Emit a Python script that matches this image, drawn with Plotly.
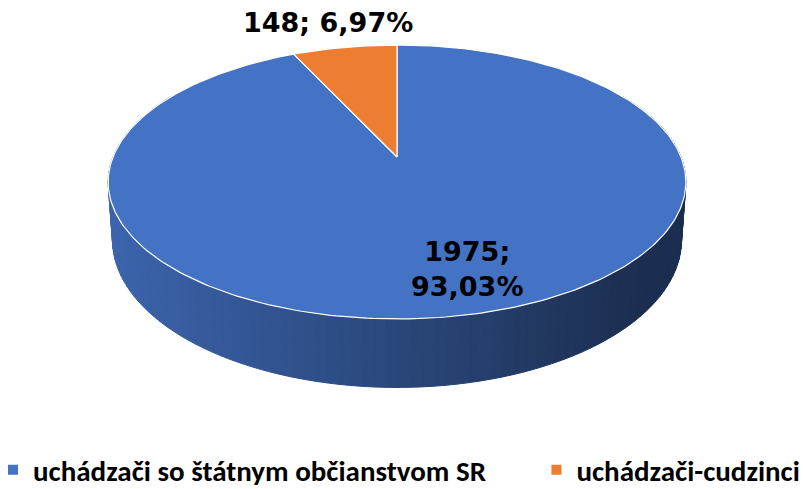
import numpy as np
import plotly.graph_objects as go

# ---- data ----
categories = ["uchádzači so štátnym občianstvom SR", "uchádzači-cudzinci"]
counts = [1975, 148]
percent_labels = ["93,03%", "6,97%"]
colors = ["#4472C4", "#ED7D31"]

# ---- 3D pie geometry (style) ----
CX, CY = 397.0, 157.0      # projected centre of the top face (px)
A, B, K = 132.4, 284.0, 0.1825   # vertical / horizontal radius, perspective
H = 56.0                   # thickness
BOTTOM_SCALE = 0.985


def rim(theta_deg, depth=0.0, scale=1.0):
    t = np.radians(theta_deg)
    u, v = np.sin(t), np.cos(t)
    w = 1 + K * v
    x = CX + scale * B * u / w
    y = CY + (-A * v + depth) / w
    return x, y


total = sum(counts)
bounds = np.concatenate([[0.0], np.cumsum(counts) / total * 360.0])

fig = go.Figure()

# ---- side wall (front half), drawn as shaded strips ----
def shade(hex_color, x):
    f = 0.88 - 0.47 * (x - 110.0) / 530.0
    f = max(0.41, min(0.88, f))
    r, g, b = (int(hex_color[i:i + 2], 16) for i in (1, 3, 5))
    return f"rgb({int(r * f)},{int(g * f)},{int(b * f)})"


step = 2.0
angles = np.arange(60.0, 300.0 + step, step)
for a0, a1 in zip(angles[:-1], angles[1:]):
    mid = (a0 + a1) / 2
    idx = int(np.searchsorted(bounds, mid, side="right") - 1)
    idx = min(idx, len(counts) - 1)
    xt0, yt0 = rim(a0)
    xt1, yt1 = rim(a1)
    xb1, yb1 = rim(a1, H, BOTTOM_SCALE)
    xb0, yb0 = rim(a0, H, BOTTOM_SCALE)
    col = shade(colors[idx], (xt0 + xt1) / 2)
    fig.add_trace(go.Scatter(
        x=[xt0, xt1, xb1, xb0, xt0], y=[yt0, yt1, yb1, yb0, yt0],
        mode="lines", fill="toself", fillcolor=col,
        line=dict(color=col, width=1), showlegend=False, hoverinfo="skip"))

# ---- top faces ----
for i, (name, c) in enumerate(zip(categories, colors)):
    a0, a1 = bounds[i], bounds[i + 1]
    n = max(4, int((a1 - a0) / 1.0))
    th = np.linspace(a0, a1, n)
    xs, ys = rim(th)
    fig.add_trace(go.Scatter(
        x=np.concatenate([[CX], xs, [CX]]), y=np.concatenate([[CY], ys, [CY]]),
        mode="lines", fill="toself", fillcolor=c,
        line=dict(color="white", width=1.2),
        name=name, showlegend=False,
        hovertemplate=f"{name}: {counts[i]}; {percent_labels[i]}<extra></extra>"))

# ---- legend entries (one legend box per category) ----
legend_ids = ["legend", "legend2"]
for name, c, lg in zip(categories, colors, legend_ids):
    fig.add_trace(go.Scatter(
        x=[None], y=[None], mode="markers", name=name, legend=lg,
        marker=dict(symbol="square", size=10, color=c)))

# ---- data labels ----
label_font = dict(family="DejaVu Sans", size=27, color="black", weight="bold")
fig.add_annotation(x=328, y=22, text=f"{counts[1]}; {percent_labels[1]}",
                   showarrow=False, font=label_font, xanchor="center", yanchor="middle")
fig.add_annotation(x=467, y=269, text=f"{counts[0]};<br>{percent_labels[0]}",
                   showarrow=False, font=label_font, xanchor="center", yanchor="middle")

legend_font = dict(family="Carlito, 'Liberation Sans Narrow', Lato", size=29,
                   color="black", weight="bold")
fig.update_layout(
    width=803, height=489,
    margin=dict(l=0, r=0, t=0, b=0, autoexpand=False),
    paper_bgcolor="white", plot_bgcolor="white",
    xaxis=dict(range=[0, 803], visible=False, fixedrange=True),
    yaxis=dict(range=[489, 0], visible=False, fixedrange=True),
    showlegend=True,
    legend=dict(orientation="h", x=-0.0087, y=0.039, xanchor="left", yanchor="middle",
                font=legend_font, itemwidth=30, bgcolor="rgba(0,0,0,0)"),
    legend2=dict(orientation="h", x=0.668, y=0.039, xanchor="left", yanchor="middle",
                 font=legend_font, itemwidth=30, bgcolor="rgba(0,0,0,0)"),
)

fig.write_html("out.html", config={"displayModeBar": False},
               post_script="document.body.style.margin='0';document.body.style.overflow='hidden';")
